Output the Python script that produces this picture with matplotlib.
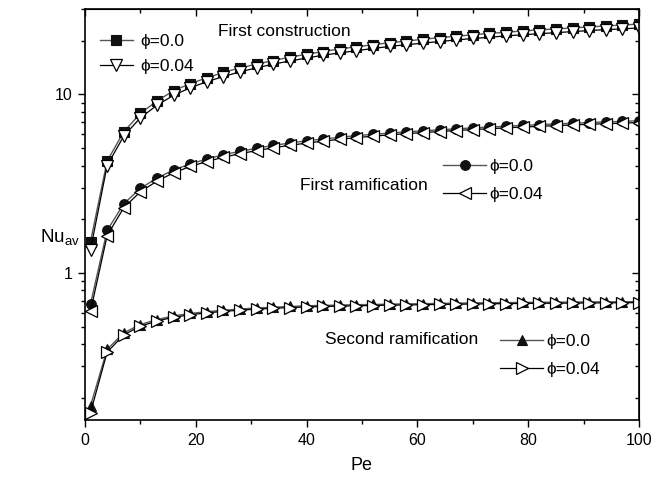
import numpy as np
import matplotlib
matplotlib.use("Agg")
import matplotlib.pyplot as plt
from matplotlib import ticker

plt.rcParams['font.family'] = ['Liberation Sans', 'DejaVu Sans']
plt.rcParams['mathtext.fontset'] = 'custom'
plt.rcParams['mathtext.rm'] = 'Liberation Sans'

# Peclet numbers (marker positions)
pe = list(range(1, 101, 3))

# First construction
fc_phi0 = [1.50, 4.24, 6.18, 7.83, 9.2, 10.5, 11.5, 12.4, 13.3, 14.1,
           14.8, 15.5, 16.2, 16.8, 17.4, 18.0, 18.5, 19.0, 19.5, 19.9,
           20.4, 20.8, 21.2, 21.6, 22.0, 22.3, 22.7, 23.0, 23.3, 23.6,
           23.9, 24.2, 24.5, 24.8]
fc_phi4 = [1.35, 4.0, 5.85, 7.4, 8.7, 9.9, 10.9, 11.8, 12.6, 13.4,
           14.1, 14.8, 15.4, 16.0, 16.6, 17.1, 17.6, 18.1, 18.6, 19.0,
           19.4, 19.8, 20.2, 20.6, 20.9, 21.3, 21.6, 21.9, 22.2, 22.5,
           22.8, 23.1, 23.3, 23.6]

# First ramification
fr_phi0 = [0.67, 1.73, 2.44, 2.98, 3.40, 3.78, 4.08, 4.35, 4.60, 4.80,
           5.00, 5.18, 5.35, 5.50, 5.63, 5.76, 5.88, 5.98, 6.08, 6.17,
           6.26, 6.34, 6.42, 6.50, 6.57, 6.64, 6.71, 6.78, 6.84, 6.90,
           6.96, 7.02, 7.07, 7.12]
fr_phi4 = [0.61, 1.62, 2.32, 2.85, 3.27, 3.64, 3.95, 4.21, 4.45, 4.66,
           4.85, 5.03, 5.19, 5.34, 5.48, 5.61, 5.73, 5.84, 5.94, 6.03,
           6.12, 6.20, 6.28, 6.36, 6.43, 6.50, 6.57, 6.63, 6.69, 6.75,
           6.81, 6.86, 6.91, 6.96]

# Second ramification
sr_phi0 = [0.18, 0.373, 0.462, 0.514, 0.548, 0.575, 0.593, 0.607, 0.618, 0.628,
           0.636, 0.643, 0.649, 0.655, 0.658, 0.661, 0.664, 0.666, 0.669, 0.671,
           0.673, 0.675, 0.677, 0.679, 0.681, 0.682, 0.684, 0.685, 0.686, 0.687,
           0.688, 0.689, 0.690, 0.691]
sr_phi4 = [0.165, 0.36, 0.45, 0.503, 0.538, 0.565, 0.583, 0.598, 0.609, 0.619,
           0.627, 0.634, 0.640, 0.645, 0.649, 0.652, 0.655, 0.657, 0.660, 0.662,
           0.664, 0.666, 0.668, 0.670, 0.672, 0.673, 0.675, 0.676, 0.677, 0.678,
           0.679, 0.680, 0.681, 0.682]

labels = ['\u03d5=0.0', '\u03d5=0.04']

fig = plt.figure(figsize=(6.67, 4.83), dpi=100)
ax = fig.add_axes([0.1274, 0.1304, 0.8306, 0.8503])

fill_kw = dict(color='#555555', lw=1.0, mfc='#111111', mec='#111111', mew=0.8, ms=7)
open_kw = dict(color='black', lw=0.9, mfc='white', mec='black', mew=0.9, ms=8)

a1, = ax.plot(pe, fc_phi0, marker='s', ms=6.5, **{k: v for k, v in fill_kw.items() if k != 'ms'})
a2, = ax.plot(pe, fc_phi4, marker='v', **open_kw)
b1, = ax.plot(pe, fr_phi0, marker='o', **fill_kw)
b2, = ax.plot(pe, fr_phi4, marker='<', **open_kw)
c1, = ax.plot(pe, sr_phi0, marker='^', **fill_kw)
c2, = ax.plot(pe, sr_phi4, marker='>', **open_kw)

ax.set_yscale('log')
ax.set_xlim(0, 100)
ax.set_ylim(0.15, 30)

ax.xaxis.set_major_locator(ticker.MultipleLocator(20))
ax.xaxis.set_minor_locator(ticker.MultipleLocator(10))
ax.yaxis.set_major_locator(ticker.LogLocator(base=10, numticks=10))
ax.yaxis.set_minor_locator(ticker.LogLocator(base=10, subs=np.arange(2, 10), numticks=20))
ax.yaxis.set_major_formatter(ticker.FuncFormatter(lambda v, p: '%g' % v))
ax.yaxis.set_minor_formatter(ticker.NullFormatter())

ax.tick_params(which='both', direction='out', labelsize=11.5, width=1.0, pad=4)
ax.tick_params(which='major', length=5)
ax.tick_params(which='minor', length=3)
for s in ax.spines.values():
    s.set_linewidth(1.2)

# inward ticks on top and right
top = ax.secondary_xaxis('top')
top.xaxis.set_major_locator(ticker.MultipleLocator(20))
top.xaxis.set_minor_locator(ticker.MultipleLocator(10))
top.tick_params(which='both', direction='in', labeltop=False, width=1.0)
top.tick_params(which='major', length=5)
top.tick_params(which='minor', length=3)
right = ax.secondary_yaxis('right')
right.yaxis.set_major_locator(ticker.LogLocator(base=10, numticks=10))
right.yaxis.set_minor_locator(ticker.LogLocator(base=10, subs=np.arange(2, 10), numticks=20))
right.tick_params(which='both', direction='in', labelright=False, width=1.0)
right.tick_params(which='major', length=5)
right.tick_params(which='minor', length=3)
right.yaxis.set_minor_formatter(ticker.NullFormatter())
right.yaxis.set_major_formatter(ticker.NullFormatter())

ax.set_xlabel('Pe', fontsize=13, labelpad=7)
ax.text(-0.081, 0.443, r'Nu$_{\mathrm{av}}$', transform=ax.transAxes,
        fontsize=13.5, ha='left', va='center')

ax.text(0.240, 0.945, 'First construction', transform=ax.transAxes, fontsize=12.5, va='center')
ax.text(0.388, 0.572, 'First ramification', transform=ax.transAxes, fontsize=12.5, va='center')
ax.text(0.433, 0.197, 'Second ramification', transform=ax.transAxes, fontsize=12.5, va='center')

leg_kw = dict(frameon=False, fontsize=12.5, borderpad=0, borderaxespad=0,
              loc='upper left')
l1 = ax.legend([a1, a2], labels, bbox_to_anchor=(0.027, 0.940),
               handlelength=1.9, handletextpad=0.45, labelspacing=0.57, **leg_kw)
ax.add_artist(l1)
l2 = ax.legend([b1, b2], labels, bbox_to_anchor=(0.646, 0.635),
               handlelength=2.5, handletextpad=0.2, labelspacing=0.73, **leg_kw)
ax.add_artist(l2)
ax.legend([c1, c2], labels, bbox_to_anchor=(0.749, 0.21),
          handlelength=2.5, handletextpad=0.2, labelspacing=0.72, **leg_kw)

fig.savefig('out.png', dpi=100)
